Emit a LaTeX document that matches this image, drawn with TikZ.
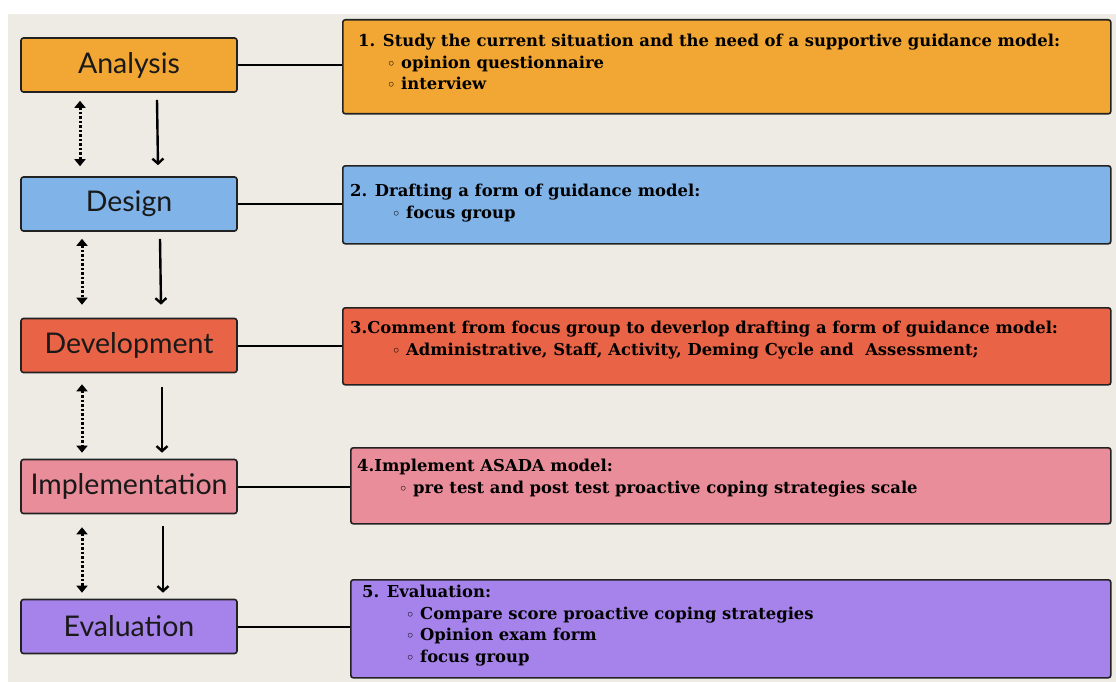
\documentclass[tikz,border=0pt]{standalone}
\usepackage{fontspec}
\setmainfont{DejaVu Serif}
\newfontfamily\stagefont{Lato}
\newfontfamily\dvsans{DejaVu Sans}
\usetikzlibrary{arrows.meta,calc}
\definecolor{bg}{HTML}{EEEBE5}
\definecolor{cA}{HTML}{F2A734}
\definecolor{cB}{HTML}{80B3E8}
\definecolor{cC}{HTML}{E96346}
\definecolor{cD}{HTML}{E88D99}
\definecolor{cE}{HTML}{A683EB}
\definecolor{edge}{HTML}{222222}
\newcommand{\bul}{\makebox[14pt][l]{\dvsans\fontsize{13}{13}\selectfont ◦}}
\begin{document}
\begin{tikzpicture}[x=1pt,y=-1pt,
  stage/.style={draw=edge, line width=1.6pt, rounded corners=2.5pt, minimum width=216pt, minimum height=54pt, inner sep=0pt, font=\stagefont\fontsize{28.5}{32}\selectfont, text=black!90},
  note/.style={draw=edge, line width=1.6pt, rounded corners=2.5pt, anchor=north west, inner sep=0pt},
  txt/.style={anchor=base west, inner sep=0pt, align=left, font=\bfseries\fontsize{16.4}{21.5}\selectfont, text=black},
  link/.style={draw=black, line width=2pt},
  flow/.style={draw=black, line width=2.4pt, -{Straight Barb[length=5pt,width=11pt]}},
  loop/.style={draw=black, line width=3pt, dash pattern=on 2.5pt off 2pt, {Triangle[length=7pt,width=11pt]}-{Triangle[length=7pt,width=11pt]}}
]
\useasboundingbox (0,0) rectangle (1116,682);
\fill[white] (0,0) rectangle (1116,682);
\fill[bg] (8,14) rectangle (1116,682);

% left stages
\node[stage, fill=cA] (l1) at (129,65) {Analysis};
\node[stage, fill=cB] (l2) at (129,204) {Design};
\node[stage, fill=cC] (l3) at (129,345.5) {Development};
\node[stage, fill=cD] (l4) at (129,486.5) {Implementation};
\node[stage, fill=cE] (l5) at (129,626.5) {Evaluation};

% right notes
\node[note, fill=cA, minimum width=768pt, minimum height=94pt] (r1) at (342,19) {};
\node[note, fill=cB, minimum width=768pt, minimum height=78pt] (r2) at (342,165) {};
\node[note, fill=cC, minimum width=768pt, minimum height=77pt] (r3) at (342,307) {};
\node[note, fill=cD, minimum width=760pt, minimum height=76pt] (r4) at (350,447) {};
\node[note, fill=cE, minimum width=760pt, minimum height=98pt] (r5) at (350,579) {};

% texts (anchored at the baseline of the last line)
\node[txt] (t1) at (358,90) {1. Study the current situation and the need of a supportive guidance model:\\
\hspace*{29pt}\bul opinion questionnaire\\
\hspace*{29pt}\bul interview};
\node[txt] (t2) at (350,218) {2. Drafting a form of guidance model:\\
\hspace*{42pt}\bul focus group};
\node[txt] (t3) at (350,355) {3.Comment from focus group to deverlop drafting a form of guidance model:\\
\hspace*{42pt}\bul Administrative, Staff, Activity, Deming Cycle and\ \ Assessment;};
\node[txt] (t4) at (357,493) {4.Implement ASADA model:\\
\hspace*{42pt}\bul pre test and post test proactive coping strategies scale};
\node[txt] (t5) at (362,662) {5. Evaluation:\\
\hspace*{44pt}\bul Compare score proactive coping strategies\\
\hspace*{44pt}\bul Opinion exam form\\
\hspace*{44pt}\bul focus group};

% links
\foreach \i in {1,...,5} {
  \draw[link] (l\i.east) -- (l\i.east -| r\i.west);
}

% flow arrows
\draw[loop] (80,0 |- l1.south) ++(0,8) -- ($(80,0 |- l2.north)+(0,-10)$);
\draw[flow] (157,0 |- l1.south) ++(0,7) -- ($(158,0 |- l2.north)+(0,-11)$);
\draw[loop] (82,0 |- l2.south) ++(0,7) -- ($(82,0 |- l3.north)+(0,-13)$);
\draw[flow] (160,0 |- l2.south) ++(0,7) -- ($(161,0 |- l3.north)+(0,-13)$);
\draw[loop] (82,0 |- l3.south) ++(0,11) -- ($(82,0 |- l4.north)+(0,-6)$);
\draw[flow] (162,0 |- l3.south) ++(0,14) -- ($(162,0 |- l4.north)+(0,-6)$);
\draw[loop] (82,0 |- l4.south) ++(0,13) -- ($(82,0 |- l5.north)+(0,-6)$);
\draw[flow] (163,0 |- l4.south) ++(0,12) -- ($(163,0 |- l5.north)+(0,-6)$);
\end{tikzpicture}
\end{document}
